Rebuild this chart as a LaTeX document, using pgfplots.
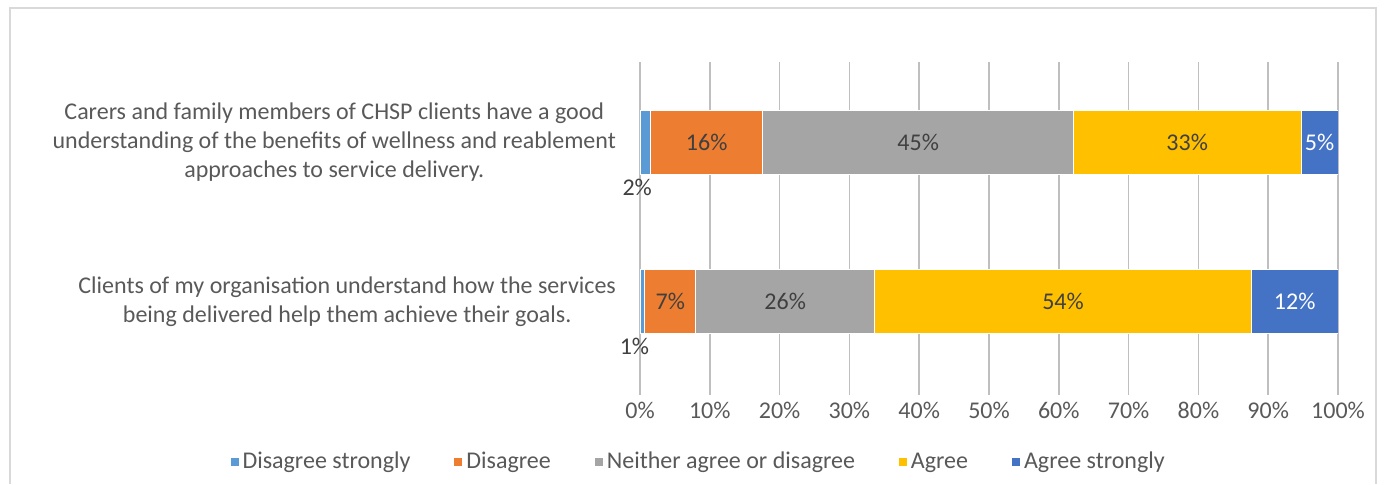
\documentclass[border=0pt]{standalone}
\usepackage{pgfplots}
\pgfplotsset{compat=1.18}
\usepackage{pgfplotstable}
\usepackage{fontspec}
\setmainfont{Carlito}
\definecolor{cDS}{HTML}{5B9BD5}
\definecolor{cD}{HTML}{ED7D31}
\definecolor{cN}{HTML}{A5A5A5}
\definecolor{cA}{HTML}{FFC000}
\definecolor{cAS}{HTML}{4472C4}
\definecolor{txt}{HTML}{595959}
\definecolor{lab}{HTML}{404040}
\definecolor{grid}{HTML}{D9D9D9}
\newcommand{\lbl}{\fontsize{12}{14.5}\selectfont}

% y: 0 = top question, 1 = bottom question; values in percent
\pgfplotstableread{
y  ds   d     n     a     as    lds ld ln la las
0  1.5  16.1  44.5  32.6  5.3   2   16 45 33 5
1  0.7  7.3   25.6  54.0  12.4  1   7  26 54 12
}\data

\pgfplotsset{
  seglabel/.style 2 args={
    visualization depends on={\thisrow{#1} \as \labv},
    nodes near coords={\pgfmathprintnumber{\labv}\%},
    every node near coord/.append style={anchor=center, font=\lbl, text=#2},
  },
}

\begin{document}
\begin{tikzpicture}
\useasboundingbox (0,0) rectangle (693pt,242pt);
\draw[grid, line width=0.75pt] (5pt,0pt) -- (5pt,238pt) -- (688pt,238pt) -- (688pt,0pt);
\begin{axis}[
  at={(320pt,44.5pt)}, anchor=south west,
  scale only axis, width=349pt, height=166.5pt,
  xbar stacked, bar width=32pt,
  xmin=0, xmax=100, ymin=-0.506, ymax=1.588,
  y dir=reverse,
  xtick={0,10,...,100},
  xticklabel={\pgfmathprintnumber{\tick}\%},
  ytick={0,1},
  yticklabels={{Carers and family members of CHSP clients have a good\\understanding of the benefits of wellness and reablement\\approaches to service delivery.},{Clients of my organisation understand how the services\\being delivered help them achieve their goals.}},
  yticklabel style={align=center, font=\lbl, text=txt, xshift=-8.5pt},
  xticklabel style={font=\lbl, text=txt},
  /pgf/number format/assume math mode=true,
  axis line style={draw=none},
  major tick style={draw=none},
  xmajorgrids, grid style={grid, line width=0.75pt},
  legend style={draw=none, at={(0.084,-0.201)}, anchor=center, legend columns=5,
    font=\lbl, text=txt, /tikz/every even column/.append style={column sep=20pt},
    nodes={inner sep=1.5pt}},
  legend image code/.code={\fill[#1] (0pt,-2.25pt) rectangle (4.5pt,2.25pt);},
  every axis plot/.append style={draw=white, line width=0.5pt},
]
\addplot[fill=cDS, visualization depends on={\thisrow{lds} \as \labv},
  nodes near coords={\pgfmathprintnumber{\labv}\%},
  every node near coord/.append style={anchor=north, xshift=-4pt, yshift=-14.5pt, font=\lbl, text=lab}]
  table[x=ds, y=y] {\data};
\addplot[fill=cD, seglabel={ld}{lab}] table[x=d, y=y] {\data};
\addplot[fill=cN, seglabel={ln}{lab}] table[x=n, y=y] {\data};
\addplot[fill=cA, seglabel={la}{lab}] table[x=a, y=y] {\data};
\addplot[fill=cAS, seglabel={las}{white}] table[x=as, y=y] {\data};
\legend{Disagree strongly, Disagree, Neither agree or disagree, Agree, Agree strongly}
\end{axis}
\end{tikzpicture}
\end{document}
